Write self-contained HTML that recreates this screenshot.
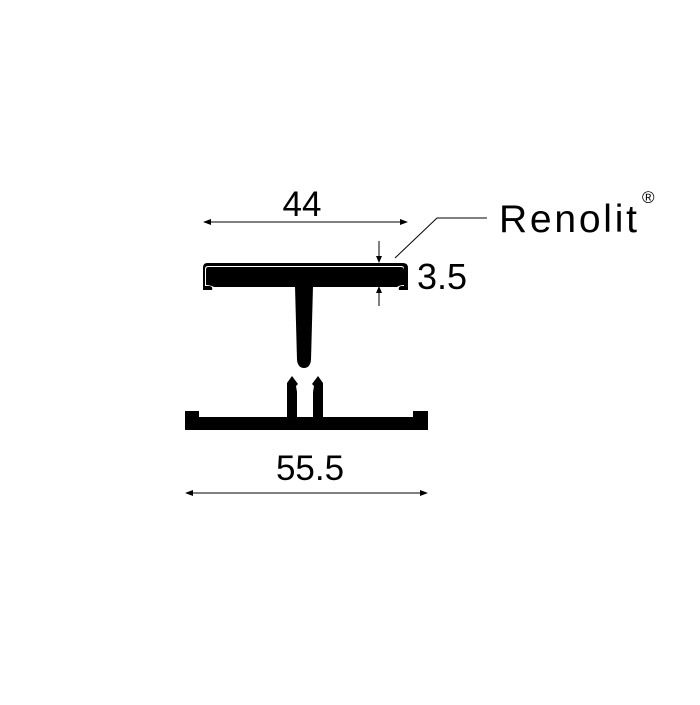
<!DOCTYPE html>
<html><head><style>body{margin:0;background:#fff}</style></head><body>
<svg width="700" height="700" viewBox="0 0 700 700" xmlns="http://www.w3.org/2000/svg" font-family="Liberation Sans, Arial, sans-serif">
<rect width="700" height="700" fill="#fff"/>
<path d="M207,263 H403 Q408,263 408,268 V290 H399 Q398,287 401,286 H404 V268 Q404,266 401,266 H208 Q205,266 205,269 V286 H210 Q213,287 212,290 H203 V268 Q203,263 207,263 Z" fill="#000"/>
<path d="M208,267 H401 Q404,267 404,270 V285 Q400,285 397,287 H214 Q210,285 206,285 V270 Q206,267 208,267 Z" fill="#000"/>
<path d="M295,286 H313 L311,360 Q310,368 304,368 Q298,368 297,360 Z" fill="#000"/>
<path d="M287,420 V383 L292,376 L298,384 L296,386 L297,392 L297,420 Z" fill="#000"/>
<path d="M323,420 V383 L318,376 L312,384 L314,386 L313,392 L313,420 Z" fill="#000"/>
<rect x="185" y="417" width="243" height="13" fill="#000"/>
<rect x="185" y="411" width="14" height="7" fill="#000"/>
<rect x="413" y="411" width="15" height="7" fill="#000"/>
<line x1="205" y1="222" x2="405" y2="222" stroke="#000" stroke-width="1"/>
<path d="M203,222 l8,-3 v6 z M408,222 l-8,-3 v6 z" fill="#000"/>
<text x="302" y="216" font-size="35" text-anchor="middle">44</text>
<line x1="187" y1="493" x2="426" y2="493" stroke="#000" stroke-width="1"/>
<path d="M185,493 l8,-3 v6 z M428,493 l-8,-3 v6 z" fill="#000"/>
<text x="310" y="480" font-size="35" text-anchor="middle">55.5</text>
<line x1="379" y1="241" x2="379" y2="258" stroke="#000" stroke-width="1"/>
<path d="M379,263 l-3,-7 h6 z" fill="#000"/>
<line x1="379" y1="291" x2="379" y2="306" stroke="#000" stroke-width="1"/>
<path d="M379,286 l-3,7 h6 z" fill="#000"/>
<text x="417" y="289" font-size="36">3.5</text>
<polyline points="395,258 437,218 487,218" fill="none" stroke="#000" stroke-width="1"/>
<text x="499" y="232" font-size="39" textLength="138" lengthAdjust="spacing">Renolit</text>
<text x="642" y="203" font-size="17">®</text>
</svg>
</body></html>
